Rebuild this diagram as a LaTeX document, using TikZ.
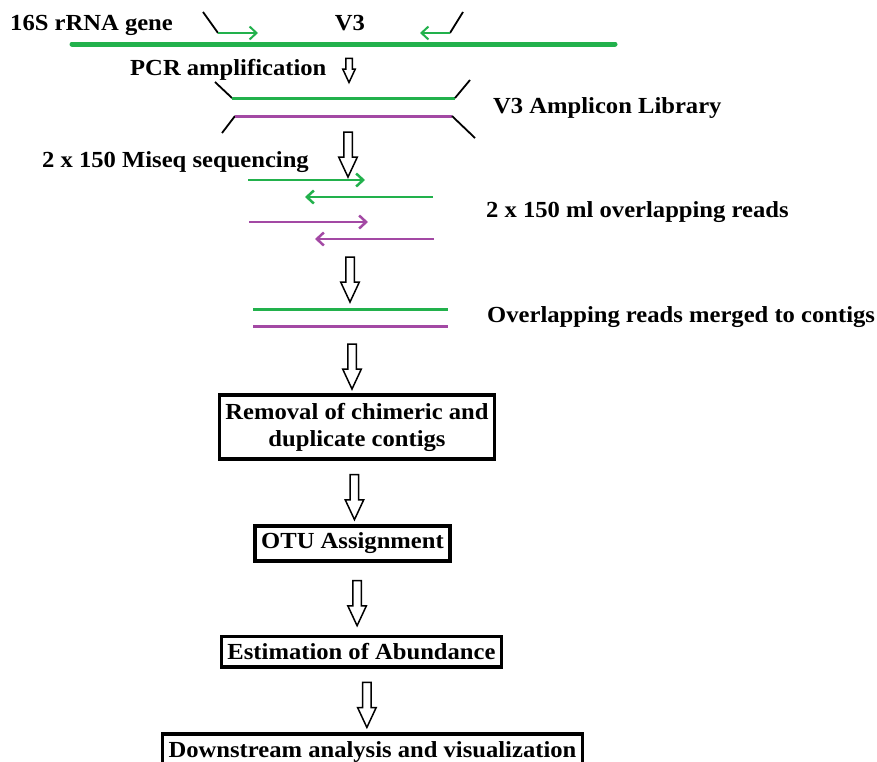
\documentclass[tikz,border=0pt]{standalone}
\usepackage{fontspec}
\setmainfont[FakeStretch=1.07]{Liberation Serif}
\usetikzlibrary{arrows.meta,shapes.arrows}
\definecolor{strandgreen}{RGB}{34,177,76}
\definecolor{strandpurple}{RGB}{163,73,164}
\tikzset{
  flowtext/.style={font=\fontsize{23}{27}\selectfont\bfseries, inner sep=0pt, anchor=base west},
  stagebox/.style={draw, line width=3.5pt, fill=white, align=center, inner xsep=6pt, inner ysep=7pt,
    font=\fontsize{23}{27}\selectfont\bfseries},
  downarrow/.style={draw, line width=1.5pt, single arrow, shape border rotate=270, minimum height=45pt,
    single arrow head extend=5pt, single arrow tip angle=50, inner sep=3.5pt},
  primer/.style={line width=1.8pt},
  greenstrand/.style={strandgreen, line width=3pt},
  purplestrand/.style={strandpurple, line width=3pt},
  readarrow/.style={-{Straight Barb[length=7pt,width=13pt]}, line width=2.5pt}
}
\begin{document}
\begin{tikzpicture}[x=1pt,y=-1pt]
	\useasboundingbox (0,0) rectangle (877,761);
	
	\node[flowtext] (gene) at (10,30) {16S rRNA gene};
	\node[flowtext, anchor=base] (vthree) at (350,30) {V3};
	\draw[strandgreen, line width=5pt, line cap=round] (72,44) -- (615,44);
	\draw[primer] (203,12) -- (218,33);
	\draw[readarrow, strandgreen, line width=2pt] (218,33) -- (258,33);
	\draw[primer] (463,12) -- (450,33);
	\draw[readarrow, strandgreen, line width=2pt] (450,33) -- (420,33);
	
	\node[flowtext] (pcr) at (130,75) {PCR amplification};
	\node[downarrow, minimum height=24pt, inner sep=2.5pt, single arrow head extend=3pt] (pcrarrow) at (349,67) {};
	
	\draw[primer] (215,82) -- (232,98);
	\draw[greenstrand] (232,98) -- (455,98);
	\draw[primer] (455,98) -- (470,80);
	\draw[primer] (222,133) -- (235,116);
	\draw[purplestrand] (235,116) -- (452,116);
	\draw[primer] (452,116) -- (475,138);
	\node[flowtext] (library) at (493,113) {V3 Amplicon Library};
	
	\node[downarrow] (libarrow) at (348,150) {};
	\node[flowtext] (miseq) at (42,167) {2 x 150 Miseq sequencing};
	
	\draw[readarrow, strandgreen] (248,180) -- (365,180);
	\draw[readarrow, strandgreen] (433,197) -- (305,197);
	\draw[readarrow, strandpurple] (249,222) -- (368,222);
	\draw[readarrow, strandpurple] (434,239) -- (315,239);
	\node[flowtext] (reads) at (486,217) {2 x 150 ml overlapping reads};
	
	\node[downarrow] (readsarrow) at (350,275) {};
	
	\draw[greenstrand] (253,309) -- (448,309);
	\draw[purplestrand] (253,326) -- (448,326);
	\node[flowtext] (merged) at (487,322) {Overlapping reads merged to contigs};
	
	\node[downarrow] (mergedarrow) at (352,362) {};
	
	\node[stagebox, inner ysep=8pt] (removal) at (357,427) {Removal of chimeric and\\duplicate contigs};
	\node[stagebox] (otu) at (352.5,543.5) {OTU Assignment};
	\node[stagebox] (abundance) at (361.5,651.5) {Estimation of Abundance};
	\node[stagebox] (downstream) at (372.5,751.5) {Downstream analysis and visualization};
	
	\path (removal) -- node[downarrow] {} (otu);
	\path (otu) -- node[downarrow] {} (abundance);
	\path (abundance) -- node[downarrow] {} (downstream);
\end{tikzpicture}
\end{document}
